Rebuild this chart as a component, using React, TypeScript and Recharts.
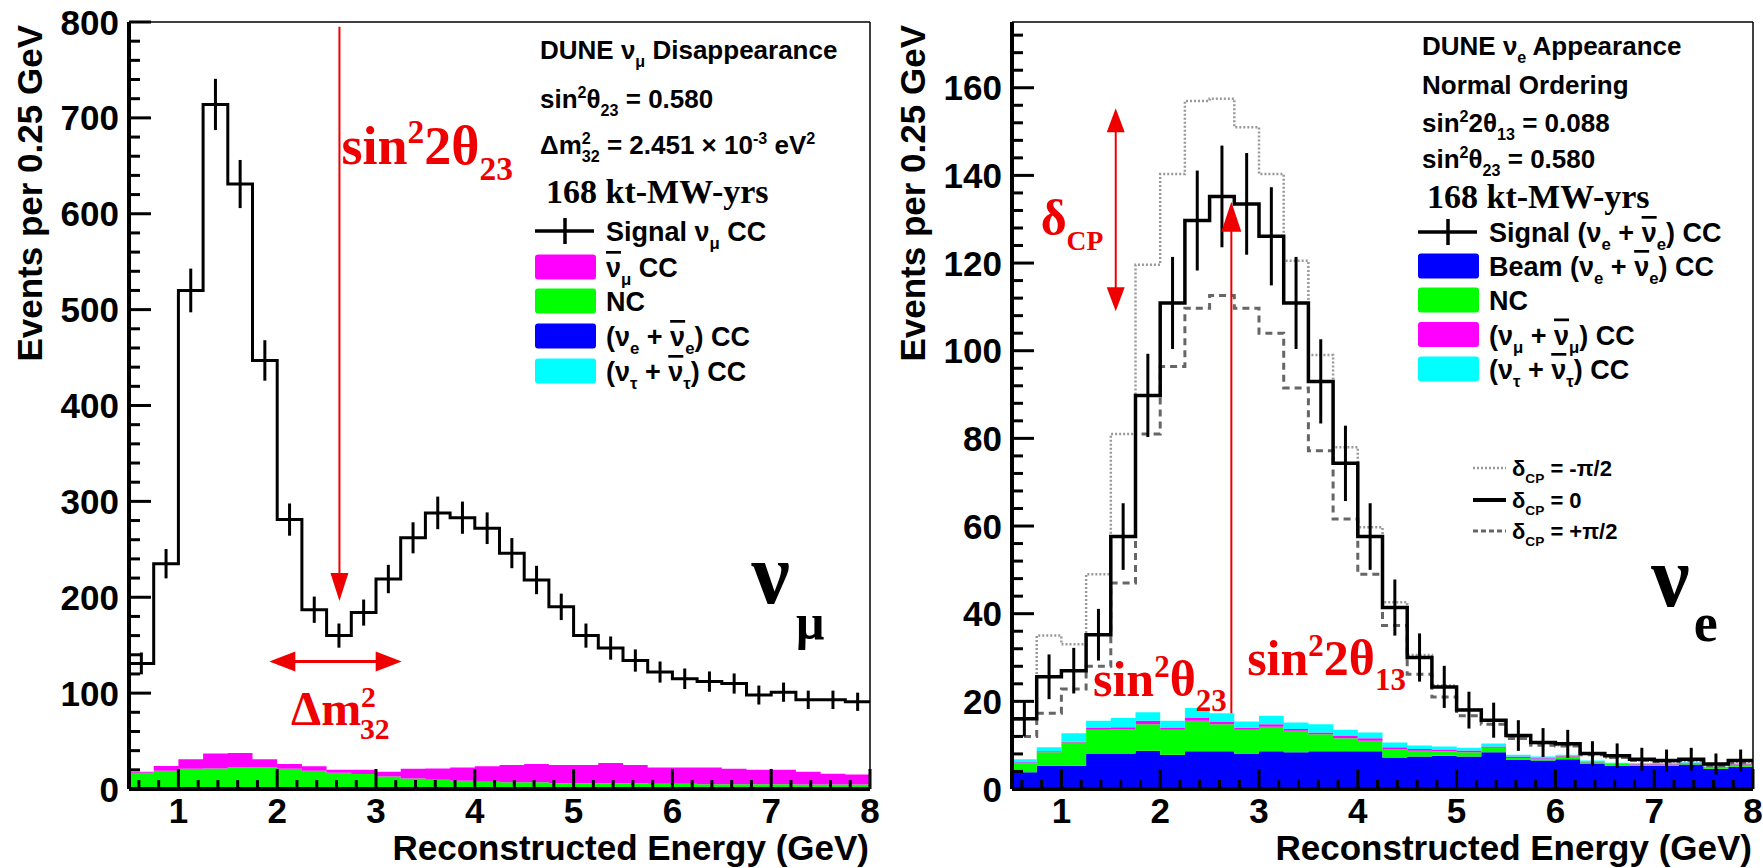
import React from "react";
import {Area, ComposedChart, ErrorBar, Line, ReferenceDot, ReferenceLine, Scatter, XAxis, YAxis} from "recharts";

// bin edges, 0.25 GeV bins from 0.5 to 8 GeV
const binEdges = [0.5, 0.75, 1, 1.25, 1.5, 1.75, 2, 2.25, 2.5, 2.75, 3, 3.25, 3.5, 3.75, 4, 4.25, 4.5, 4.75, 5, 5.25,
    5.5, 5.75, 6, 6.25, 6.5, 6.75, 7, 7.25, 7.5, 7.75, 8];

// nu_mu disappearance
const numuSignal = [131, 235, 520, 714, 631, 447, 281, 187, 160, 184, 219, 262, 288, 283, 272, 246, 218, 190, 160, 147,
    134, 122, 115, 112, 110, 98, 101, 93, 93, 91];
const numuSignalErr = [11.4, 15.3, 22.8, 26.7, 25.1, 21.1, 16.8, 13.7, 12.6, 13.6, 14.8, 16.2, 17.0, 16.8, 16.5, 15.7,
    14.8, 13.8, 12.6, 12.1, 11.6, 11.0, 10.7, 10.6, 10.5, 9.9, 10.0, 9.6, 9.6, 9.5];
const numuNueCC = [0.3, 0.3, 0.4, 0.4, 0.4, 0.5, 0.5, 0.5, 0.5, 0.5, 0.5, 0.5, 0.5, 0.5, 0.5, 0.5, 0.5, 0.5, 0.5, 0.5,
    0.5, 0.5, 0.5, 0.4, 0.4, 0.4, 0.4, 0.4, 0.4, 0.4];
const numuNutauCC = [0.4, 0.6, 0.8, 0.9, 1.0, 1.1, 1.2, 1.3, 1.3, 1.4, 1.4, 1.4, 1.4, 1.4, 1.4, 1.4, 1.3, 1.3, 1.3, 1.3,
    1.3, 1.2, 1.2, 1.2, 1.2, 1.1, 1.1, 1.1, 1.0, 1.0];
const numuNC = [16.3, 18.1, 19.8, 20.2, 21.1, 20.9, 19.3, 17.2, 15.2, 13.7, 11.1, 9.1, 7.8, 6.8, 5.7, 5.1, 5.2, 4.2, 4.2,
    4.2, 4.2, 3.8, 3.8, 3.4, 3.4, 3.5, 3.5, 3.1, 3.2, 3.2];
const numuBarCC = [1.0, 5.0, 10.0, 15.5, 15.0, 8.5, 5.0, 4.6, 3.0, 4.4, 5.0, 10.0, 11.8, 13.8, 16.0, 18.0, 19.0, 19.0,
    19.0, 21.0, 19.0, 17.0, 17.0, 17.5, 16.0, 15.0, 15.0, 13.4, 11.4, 10.4];

// nu_e appearance
const nueSignal = [16, 25.6, 27, 35.2, 57.6, 89.8, 110.9, 129.7, 135.2, 133.5, 126.1, 110.9, 93, 74.3, 57.6, 41.4, 30,
    23.3, 18, 15.7, 12.2, 10.6, 10.3, 8.1, 7.6, 6.8, 6.5, 6.8, 5.7, 6.5];
const nueSignalErr = [4.0, 5.1, 5.2, 5.9, 7.6, 9.5, 10.5, 11.4, 11.6, 11.6, 11.2, 10.5, 9.6, 8.6, 7.6, 6.4, 5.5, 4.8,
    4.2, 4.0, 3.5, 3.3, 3.2, 2.8, 2.8, 2.6, 2.5, 2.6, 2.4, 2.5];
const nueDcpMinus = [20, 35, 33, 49, 81, 119.6, 140.3, 157, 157.5, 151, 140.3, 120.5, 99, 78, 59.7, 42.6, 30.6, 23.6,
    18.2, 15.6, 12, 10.5, 10, 8, 7.2, 6.5, 6.2, 6.4, 5.4, 6.2];
const nueDcpPlus = [12, 17.3, 22.8, 28, 47, 81, 96.4, 109.7, 112.6, 109.7, 104, 91.5, 77.2, 61.6, 49, 37.3, 26.2, 21,
    16.7, 14.8, 11.5, 10, 9.8, 7.8, 7.2, 6.5, 6.2, 6.5, 5.3, 6];
const nueBeamCC = [3.8, 5.3, 5.3, 8.1, 8.1, 8.7, 7.8, 8.6, 8.6, 8.0, 8.6, 8.4, 8.6, 8.6, 8.6, 7.2, 7.4, 7.6, 7.4, 8.4,
    6.6, 6.5, 6.8, 5.7, 5.3, 5.3, 5.3, 5.6, 4.6, 5.1];
const nueNC = [2.1, 3.1, 5.3, 5.4, 5.6, 6.1, 5.7, 7.0, 6.2, 5.5, 5.6, 4.9, 3.9, 3.0, 2.4, 1.9, 1.3, 1.0, 1.0, 1.0, 0.5,
    0.3, 0.6, 0.4, 0.4, 0.3, 0.3, 0.3, 0.3, 0.5];
const nueNumuCC = [0.2, 0.2, 0.2, 0.4, 0.4, 0.8, 0.4, 0.6, 0.6, 0.5, 0.6, 0.4, 0.4, 0.5, 0.6, 0.4, 0.4, 0.3, 0.4, 0.3,
    0.3, 0.2, 0.2, 0.2, 0.1, 0.1, 0.1, 0.1, 0.1, 0.1];
const nueNutauCC = [0.7, 0.9, 1.9, 1.7, 2.1, 1.9, 1.7, 2.3, 1.9, 1.4, 1.9, 1.5, 1.9, 1.4, 1.3, 1.1, 0.8, 0.8, 0.6, 0.7,
    0.4, 0.4, 0.2, 0.2, 0.2, 0.2, 0.2, 0.1, 0.1, 0.2];

// axis ticks
const xMajor = [1, 2, 3, 4, 5, 6, 7, 8];
const xTicks = [0.6, 0.8, 1, 1.2, 1.4, 1.6, 1.8, 2, 2.2, 2.4, 2.6, 2.8, 3, 3.2, 3.4, 3.6, 3.8, 4, 4.2, 4.4, 4.6, 4.8, 5,
    5.2, 5.4, 5.6, 5.8, 6, 6.2, 6.4, 6.6, 6.8, 7, 7.2, 7.4, 7.6, 7.8, 8];
const numuYMajor = [0, 100, 200, 300, 400, 500, 600, 700, 800];
const numuYTicks = Array.from({length: 41}, (_, i) => i * 20);
const nueYMajor = [0, 20, 40, 60, 80, 100, 120, 140, 160];
const nueYTicks = Array.from({length: 44}, (_, i) => i * 4);

const SANS = "'Liberation Sans', Arial, Helvetica, sans-serif";
const SERIF = "'Liberation Serif', 'Times New Roman', serif";
const RED = "#ee0000";

const toSteps = (series: { [k: string]: number[] }) => binEdges.map((x, i) => {
    const row: any = {x};
    const j = Math.min(i, binEdges.length - 2);
    Object.keys(series).forEach(k => row[k] = series[k][j]);
    return row;
});
const toCenters = (vals: number[], errs: number[]) =>
    vals.map((y, i) => ({x: (binEdges[i] + binEdges[i + 1]) / 2, y, err: errs[i]}));

const numuRows = toSteps({nue: numuNueCC, nutau: numuNutauCC, nc: numuNC, numubar: numuBarCC, signal: numuSignal});
const numuPoints = toCenters(numuSignal, numuSignalErr);
const nueRows = toSteps({
    beam: nueBeamCC, nc: nueNC, numu: nueNumuCC, nutau: nueNutauCC,
    signal: nueSignal, minus: nueDcpMinus, plus: nueDcpPlus
});
const nuePoints = toCenters(nueSignal, nueSignalErr);

// rich text with super/subscripts; b = overbar
type Part = { t: string, k?: 'u' | 'd', dx?: number, r?: number, b?: boolean };
const Rich = ({x, y, parts, size, family = SANS, fill = "#000", anchor = "start", weight = "bold"}:
                  { x: number, y: number, parts: Part[], size: number, family?: string, fill?: string, anchor?: string, weight?: string }) => {
    let off = 0;
    return (
        <text x={x} y={y} fontSize={size} fontFamily={family} fill={fill} fontWeight={weight} textAnchor={anchor as any}>
            {parts.map((p, i) => {
                const target = p.k === 'u' ? -0.38 * size : p.k === 'd' ? 0.3 * size : 0;
                const dy = target - off;
                off = target;
                return <tspan key={i} dy={dy} dx={p.dx ?? 0} fontSize={p.k ? size * (p.r ?? 0.62) : size}
                              style={p.b ? {textDecoration: "overline"} : undefined}>{p.t}</tspan>;
            })}
        </text>
    );
};

const isMajor = (v: number, majors: number[]) => majors.some(m => Math.abs(m - v) < 1e-6);

const makeYTick = (majors: number[]) => (props: any) => {
    const {x, y, payload} = props;
    const major = isMajor(payload.value, majors);
    return (
        <g>
            <line x1={x} y1={y} x2={x + (major ? 22 : 11)} y2={y} stroke="#000" strokeWidth={3}/>
            {major && <text x={x - 10} y={y} dy={12.5} textAnchor="end" fontFamily={SANS} fontWeight="bold"
                            fontSize={35} fill="#000">{payload.value}</text>}
        </g>
    );
};

const XTick = (props: any) => {
    const {x, y, payload} = props;
    const major = isMajor(payload.value, xMajor);
    return (
        <g>
            <line x1={x} y1={y} x2={x} y2={y - (major ? 20 : 9)} stroke="#000" strokeWidth={3}/>
            {major && <text x={x} y={y + 34} textAnchor="middle" fontFamily={SANS} fontWeight="bold"
                            fontSize={35} fill="#000">{payload.value}</text>}
        </g>
    );
};

const arrowShape = (both: boolean, len: number, hw: number, width: number) => (props: any) => {
    const {x1, y1, x2, y2} = props;
    const L = Math.hypot(x2 - x1, y2 - y1) || 1;
    const ux = (x2 - x1) / L, uy = (y2 - y1) / L;
    const head = (tx: number, ty: number, dx: number, dy: number) => {
        const bx = tx - dx * len, by = ty - dy * len;
        return `${tx},${ty} ${bx - dy * hw},${by + dx * hw} ${bx + dy * hw},${by - dx * hw}`;
    };
    return (
        <g>
            <line x1={both ? x1 + ux * len * 0.8 : x1} y1={both ? y1 + uy * len * 0.8 : y1}
                  x2={x2 - ux * len * 0.8} y2={y2 - uy * len * 0.8} stroke={RED} strokeWidth={width}/>
            <polygon points={head(x2, y2, ux, uy)} fill={RED}/>
            {both && <polygon points={head(x1, y1, -ux, -uy)} fill={RED}/>}
        </g>
    );
};

const textAt = (parts: Part[], size: number, family: string, fill: string) => (p: any) =>
    <Rich x={p.cx} y={p.cy} parts={parts} size={size} family={family} fill={fill}/>;

const CHART_W = 880;
const CHART_H = 868;
const MARGIN = {top: 22, right: 10, bottom: 0, left: 0};

const bgArea = (key: string, color: string) =>
    <Area key={key} type="stepAfter" dataKey={key} stackId="bg" stroke="none" fill={color} fillOpacity={1}
          isAnimationActive={false}/>;

// axes: "visible" draws ticks/labels, otherwise only reserves the same space (data layer)
const axes = (yTicks: number[], yMajor: number[], yMax: number, visible: boolean) => [
    <XAxis key="x" dataKey="x" type="number" domain={[0.5, 8]} allowDataOverflow ticks={xTicks} interval={0}
           tickSize={0} tickMargin={0} tickLine={false} tick={visible ? XTick : false} height={79}
           axisLine={visible ? {stroke: "#000", strokeWidth: 4} : false}/>,
    <YAxis key="y" type="number" domain={[0, yMax]} allowDataOverflow ticks={yTicks} interval={0} tickSize={0}
           tickMargin={0} tickLine={false} tick={visible ? makeYTick(yMajor) : false} width={129}
           axisLine={visible ? {stroke: "#000", strokeWidth: 4} : false}/>,
];

// transparent chart drawn on top so the frame and ticks sit above the filled stacks
const AxisLayer = ({rows, yTicks, yMajor, yMax}: { rows: any[], yTicks: number[], yMajor: number[], yMax: number }) => (
    <div style={{position: "absolute", left: 0, top: 0, width: CHART_W, height: CHART_H, pointerEvents: "none"}}>
        <ComposedChart width={CHART_W} height={CHART_H} data={rows} margin={MARGIN}>
            <ReferenceLine y={yMax} stroke="#000" strokeWidth={1.5}/>
            <ReferenceLine x={8} stroke="#000" strokeWidth={1.5}/>
            {axes(yTicks, yMajor, yMax, true)}
        </ComposedChart>
    </div>
);

const LegendBox = ({y, color, parts}: { y: number, color: string, parts: Part[] }) => (
    <g>
        <rect x={535} y={y - 12.5} width={61} height={25} rx={3} fill={color}/>
        <Rich x={606} y={y + 10} parts={parts} size={27}/>
    </g>
);

const SignalEntry = ({y, parts}: { y: number, parts: Part[] }) => (
    <g>
        <line x1={535} y1={y} x2={594} y2={y} stroke="#000" strokeWidth={3.5}/>
        <line x1={565} y1={y - 13} x2={565} y2={y + 13} stroke="#000" strokeWidth={3.5}/>
        <Rich x={606} y={y + 10} parts={parts} size={27}/>
    </g>
);

const AxisTitles = () => (
    <g fontFamily={SANS} fontWeight="bold" fontSize={35} fill="#000">
        <text transform="translate(42,25) rotate(-90)" textAnchor="end">Events per 0.25 GeV</text>
        <text x={869} y={860} textAnchor="end">Reconstructed Energy (GeV)</text>
    </g>
);

const overlayStyle: React.CSSProperties = {position: "absolute", left: 0, top: 0, pointerEvents: "none"};

const nuBar = (sub: string): Part[] => [{t: "ν", b: true}, {t: sub, k: 'd'}];

const NumuPanel = () => (
    <div style={{position: "absolute", left: 0, top: 0, width: CHART_W, height: CHART_H}}>
        <ComposedChart width={CHART_W} height={CHART_H} data={numuRows} margin={MARGIN}>
            {bgArea("nue", "#0000ff")}
            {bgArea("nutau", "#00ffff")}
            {bgArea("nc", "#00ff00")}
            {bgArea("numubar", "#ff00ff")}
            <Line type="stepAfter" dataKey="signal" stroke="#000" strokeWidth={3} dot={false} isAnimationActive={false}/>
            <Scatter data={numuPoints} dataKey="y" shape={() => <g/>} isAnimationActive={false}>
                <ErrorBar dataKey="err" direction="y" width={0} stroke="#000" strokeWidth={3}/>
            </Scatter>
            <ReferenceLine segment={[{x: 2.63, y: 795}, {x: 2.63, y: 196}]} shape={arrowShape(false, 28, 9, 2)}/>
            <ReferenceLine segment={[{x: 1.92, y: 133}, {x: 3.26, y: 133}]} shape={arrowShape(true, 26, 10, 3)}/>
            <ReferenceDot x={2.65} y={652} r={1}
                          shape={textAt([{t: "sin"}, {t: "2", k: 'u'}, {t: "2θ"}, {t: "23", k: 'd'}], 54, SERIF, RED)}/>
            <ReferenceDot x={2.14} y={67} r={1}
                          shape={textAt([{t: "Δm"}, {t: "2", k: 'u'}, {t: "32", k: 'd', dx: -16}], 48, SERIF, RED)}/>
            <ReferenceDot x={6.8} y={194} r={1} shape={textAt([{t: "ν"}], 86, SERIF, "#000")}/>
            <ReferenceDot x={7.25} y={156} r={1} shape={textAt([{t: "μ"}], 50, SERIF, "#000")}/>
            {axes(numuYTicks, numuYMajor, 800, false)}
        </ComposedChart>
        <AxisLayer rows={numuRows} yTicks={numuYTicks} yMajor={numuYMajor} yMax={800}/>
        <svg width={CHART_W} height={CHART_H} style={overlayStyle}>
            <AxisTitles/>
            <Rich x={540} y={59} size={26} parts={[{t: "DUNE ν"}, {t: "μ", k: 'd'}, {t: " Disappearance"}]}/>
            <Rich x={540} y={108} size={26} parts={[{t: "sin"}, {t: "2", k: 'u'}, {t: "θ"}, {t: "23", k: 'd'}, {t: " = 0.580"}]}/>
            <Rich x={540} y={154} size={26} parts={[{t: "Δm"}, {t: "2", k: 'u'}, {t: "32", k: 'd', dx: -9},
                {t: " = 2.451 × 10"}, {t: "-3", k: 'u'}, {t: " eV"}, {t: "2", k: 'u'}]}/>
            <Rich x={546} y={203} size={34} family={SERIF} parts={[{t: "168 kt-MW-yrs"}]}/>
            <SignalEntry y={231} parts={[{t: "Signal ν"}, {t: "μ", k: 'd'}, {t: " CC"}]}/>
            <LegendBox y={267} color="#ff00ff" parts={[...nuBar("μ"), {t: " CC"}]}/>
            <LegendBox y={301} color="#00ff00" parts={[{t: "NC"}]}/>
            <LegendBox y={336} color="#0000ff" parts={[{t: "(ν"}, {t: "e", k: 'd'}, {t: " + "}, ...nuBar("e"), {t: ") CC"}]}/>
            <LegendBox y={371} color="#00ffff" parts={[{t: "(ν"}, {t: "τ", k: 'd'}, {t: " + "}, ...nuBar("τ"), {t: ") CC"}]}/>
        </svg>
    </div>
);

const DcpEntry = ({y, stroke, dash, width, label}: { y: number, stroke: string, dash?: string, width: number, label: string }) => (
    <g>
        <line x1={590} y1={y} x2={623} y2={y} stroke={stroke} strokeDasharray={dash} strokeWidth={width}/>
        <Rich x={629} y={y + 8} size={22} parts={[{t: "δ"}, {t: "CP", k: 'd'}, {t: label}]}/>
    </g>
);

const NuePanel = () => (
    <div style={{position: "absolute", left: 883, top: 0, width: CHART_W, height: CHART_H}}>
        <ComposedChart width={CHART_W} height={CHART_H} data={nueRows} margin={MARGIN}>
            {bgArea("beam", "#0000ff")}
            {bgArea("nc", "#00ff00")}
            {bgArea("numu", "#ff00ff")}
            {bgArea("nutau", "#00ffff")}
            <Line type="stepAfter" dataKey="minus" stroke="#999" strokeWidth={2.5} strokeDasharray="2 2" dot={false}
                  isAnimationActive={false}/>
            <Line type="stepAfter" dataKey="plus" stroke="#666" strokeWidth={3} strokeDasharray="7 5" dot={false}
                  isAnimationActive={false}/>
            <Line type="stepAfter" dataKey="signal" stroke="#000" strokeWidth={3.5} dot={false} isAnimationActive={false}/>
            <Scatter data={nuePoints} dataKey="y" shape={() => <g/>} isAnimationActive={false}>
                <ErrorBar dataKey="err" direction="y" width={0} stroke="#000" strokeWidth={3}/>
            </Scatter>
            <ReferenceLine segment={[{x: 1.55, y: 109}, {x: 1.55, y: 155.3}]} shape={arrowShape(true, 24, 9, 2)}/>
            <ReferenceLine segment={[{x: 2.72, y: 17.3}, {x: 2.72, y: 134}]} shape={arrowShape(false, 30, 10, 2)}/>
            <ReferenceDot x={0.79} y={126.4} r={1}
                          shape={textAt([{t: "δ"}, {t: "CP", k: 'd', r: 0.55}], 50, SERIF, RED)}/>
            <ReferenceDot x={1.32} y={21.3} r={1}
                          shape={textAt([{t: "sin"}, {t: "2", k: 'u'}, {t: "θ"}, {t: "23", k: 'd'}], 50, SERIF, RED)}/>
            <ReferenceDot x={2.88} y={25.9} r={1}
                          shape={textAt([{t: "sin"}, {t: "2", k: 'u'}, {t: "2θ"}, {t: "13", k: 'd'}], 50, SERIF, RED)}/>
            <ReferenceDot x={6.97} y={41.8} r={1} shape={textAt([{t: "ν"}], 86, SERIF, "#000")}/>
            <ReferenceDot x={7.4} y={33.8} r={1} shape={textAt([{t: "e"}], 54, SERIF, "#000")}/>
            {axes(nueYTicks, nueYMajor, 175, false)}
        </ComposedChart>
        <AxisLayer rows={nueRows} yTicks={nueYTicks} yMajor={nueYMajor} yMax={175}/>
        <svg width={CHART_W} height={CHART_H} style={overlayStyle}>
            <AxisTitles/>
            <Rich x={539} y={55} size={26} parts={[{t: "DUNE ν"}, {t: "e", k: 'd'}, {t: " Appearance"}]}/>
            <Rich x={539} y={94} size={26} parts={[{t: "Normal Ordering"}]}/>
            <Rich x={539} y={132} size={26} parts={[{t: "sin"}, {t: "2", k: 'u'}, {t: "2θ"}, {t: "13", k: 'd'}, {t: " = 0.088"}]}/>
            <Rich x={539} y={168} size={26} parts={[{t: "sin"}, {t: "2", k: 'u'}, {t: "θ"}, {t: "23", k: 'd'}, {t: " = 0.580"}]}/>
            <Rich x={544} y={208} size={34} family={SERIF} parts={[{t: "168 kt-MW-yrs"}]}/>
            <SignalEntry y={232} parts={[{t: "Signal (ν"}, {t: "e", k: 'd'}, {t: " + "}, ...nuBar("e"), {t: ") CC"}]}/>
            <LegendBox y={266} color="#0000ff" parts={[{t: "Beam (ν"}, {t: "e", k: 'd'}, {t: " + "}, ...nuBar("e"), {t: ") CC"}]}/>
            <LegendBox y={300} color="#00ff00" parts={[{t: "NC"}]}/>
            <LegendBox y={334.5} color="#ff00ff" parts={[{t: "(ν"}, {t: "μ", k: 'd'}, {t: " + "}, ...nuBar("μ"), {t: ") CC"}]}/>
            <LegendBox y={369} color="#00ffff" parts={[{t: "(ν"}, {t: "τ", k: 'd'}, {t: " + "}, ...nuBar("τ"), {t: ") CC"}]}/>
            <DcpEntry y={468} stroke="#999" dash="2 2" width={2.5} label=" = -π/2"/>
            <DcpEntry y={500} stroke="#000" width={4} label=" = 0"/>
            <DcpEntry y={531} stroke="#666" dash="5 3" width={3} label=" = +π/2"/>
        </svg>
    </div>
);

export default function App() {
    return (
        <div style={{position: "absolute", left: 0, top: 0, width: 1763, height: 868, background: "#fff", overflow: "hidden"}}>
            <NumuPanel/>
            <NuePanel/>
        </div>
    );
}
